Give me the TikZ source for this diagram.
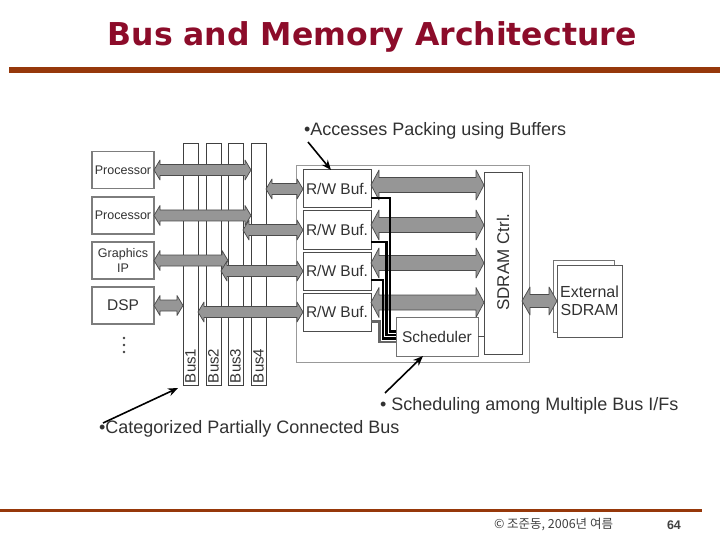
\documentclass[tikz,border=0pt]{standalone}
\usepackage{fontspec}
\setmainfont{Liberation Sans}
\newfontfamily\titlefont{DejaVu Sans}
\newfontfamily\krfont{Noto Sans CJK KR}
\usetikzlibrary{calc,arrows.meta}
\definecolor{titlered}{RGB}{140,12,42}
\definecolor{rulebrown}{RGB}{150,56,10}
\definecolor{txt}{RGB}{50,50,50}
\definecolor{arrfill}{RGB}{150,150,150}
\definecolor{arrline}{RGB}{75,75,75}
\definecolor{boxline}{RGB}{125,125,125}
% block double arrow: #1 start, #2 end, #3 half shaft, #4 half head, #5 head length
\newcommand\blk[5]{%
  \filldraw[blockarr] let \p1=(#1), \p2=(#2) in
   (\x1,\y1) -- (\x1+#5pt,\y1+#4pt) -- (\x1+#5pt,\y1+#3pt) -- (\x2-#5pt,\y1+#3pt)
   -- (\x2-#5pt,\y1+#4pt) -- (\x2,\y1) -- (\x2-#5pt,\y1-#4pt) -- (\x2-#5pt,\y1-#3pt)
   -- (\x1+#5pt,\y1-#3pt) -- (\x1+#5pt,\y1-#4pt) -- cycle;}
\newcommand\fs[1]{\fontsize{#1}{#1}\selectfont}
\begin{document}
\begin{tikzpicture}[x=1pt,y=-1pt,
  every node/.style={inner sep=0pt, outer sep=0pt, text=txt},
  pbox/.style={draw=boxline, line width=1.3pt, fill=white, rectangle, minimum width=62pt, minimum height=37pt, align=center},
  bbox/.style={draw=black!70, line width=1pt, fill=white, rectangle, minimum width=68pt, minimum height=38pt, font=\fs{15.5}},
  busbox/.style={draw=black!75, line width=0.9pt, fill=white, rectangle, minimum width=15pt, minimum height=242pt},
  buslabel/.style={rotate=90, anchor=west, font=\fs{15}},
  blockarr/.style={fill=arrfill, draw=arrline, line width=0.7pt, line join=round},
  callout/.style={draw=black, line width=1.6pt, -{Stealth[length=10pt,width=8pt]}},
  note/.style={anchor=base west, font=\fs{18}},
  ]
\useasboundingbox (0,0) rectangle (720,540);

% title and rules
\node[anchor=base, text=titlered, font=\titlefont\bfseries\fs{31.5}] (title) at (372,46) {Bus and Memory Architecture};
\fill[rulebrown] (9,67) rectangle (720,73);
\fill[rulebrown] (0,509) rectangle (702,512);

% footer
\node[anchor=base west, font=\krfont\fs{12.5}, text=black!75] (foot) at (494,528) {© 조준동, 2006년 여름};
\node[anchor=base west, font=\bfseries\fs{12.5}, text=black!75] (page) at (667,529) {64};

% left masters
\node[pbox, font=\fs{12.5}] (p1) at (123,170) {Processor};
\node[pbox, font=\fs{12.5}] (p2) at (123,215.5) {Processor};
\node[pbox, font=\fontsize{12.5}{15.5}\selectfont] (p3) at (123,260.5) {Graphics\\IP};
\node[pbox, font=\fs{15.5}] (p4) at (123,305.5) {DSP};
\foreach \yy in {338,345,352} \fill[black!75] (124,\yy) circle (1.3pt);

% buses
\node[busbox] (b1) at (190.5,264) {};
\node[busbox] (b2) at (213.5,264) {};
\node[busbox] (b3) at (235.5,264) {};
\node[busbox] (b4) at (258.5,264) {};
\node[buslabel] (l1) at (190.5,383) {Bus1};
\node[buslabel] (l2) at (213.5,383) {Bus2};
\node[buslabel] (l3) at (235.5,383) {Bus3};
\node[buslabel] (l4) at (258.5,383) {Bus4};

% memory controller container
\node[draw=black!40, line width=1pt, rectangle, minimum width=233pt, minimum height=196pt] (mc) at (412.5,264) {};
\node[bbox] (buf1) at (337,189) {R/W Buf.};
\node[bbox] (buf2) at (337,230) {R/W Buf.};
\node[bbox] (buf3) at (337,271) {R/W Buf.};
\node[bbox] (buf4) at (337,312) {R/W Buf.};
\node[draw=black!70, line width=1pt, fill=white, rectangle, minimum width=38pt, minimum height=181pt] (sdram) at (503,263.5) {};
\node[rotate=90, font=\fs{17}] (sdramlbl) at (503,262) {SDRAM Ctrl.};

% external SDRAM
\node[draw=black!55, line width=1pt, fill=white, rectangle, minimum width=61pt, minimum height=72pt] (ext0) at (583.5,296) {};
\node[draw=black!65, line width=1pt, fill=white, rectangle, minimum width=65pt, minimum height=72pt, align=center, font=\fs{16}] (ext) at (589.5,301) {External\\[2pt]SDRAM};

% block arrows: masters to buses
\blk{p1.east}{b4.west |- p1.east}{5.5}{10}{6}
\blk{p2.east}{b4.west |- p2.east}{5.5}{10}{6}
\blk{p3.east}{b3.west |- p3.east}{5.5}{10}{6}
\blk{p4.east}{b1.west |- p4.east}{5.5}{10}{6}
% buses to buffers
\blk{b4.east |- buf1.west}{buf1.west}{5.5}{10}{6}
\blk{b3.east |- buf2.west}{buf2.west}{5.5}{10}{6}
\blk{b2.east |- buf3.west}{buf3.west}{5.5}{10}{6}
\blk{b1.east |- buf4.west}{buf4.west}{5.5}{10}{6}
% buffers to SDRAM controller
\coordinate (r1) at ([yshift=4pt]buf1.east);
\coordinate (r2) at ([yshift=5pt]buf2.east);
\coordinate (r3) at ([yshift=8pt]buf3.east);
\coordinate (r4) at ([yshift=9.5pt]buf4.east);
\blk{r1}{sdram.west |- r1}{7.5}{15}{8}
\blk{r2}{sdram.west |- r2}{7.5}{15}{8}
\blk{r3}{sdram.west |- r3}{7.5}{15}{8}
\blk{r4}{sdram.west |- r4}{7.5}{15}{8}
% controller to external SDRAM
\blk{sdram.east |- ext.west}{ext.west}{6.5}{14}{8}

% scheduler and wires
\node[draw=black!55, line width=1pt, fill=white, rectangle, minimum width=82pt, minimum height=39pt, font=\fs{15.5}] (sch) at (437,336.5) {Scheduler};
\draw[draw=black, line width=2.6pt] ([yshift=-9pt]buf1.east) -| ([xshift=-6pt,yshift=5pt]sch.west) -- ([yshift=5pt]sch.west);
\draw[draw=black, line width=2.6pt] ([yshift=-12pt]buf2.east) -| ([xshift=-9.5pt,yshift=1.5pt]sch.west) -- ([yshift=1.5pt]sch.west);
\draw[draw=black, line width=2.6pt] ([yshift=-9pt]buf3.east) -| ([xshift=-13pt,yshift=-2pt]sch.west) -- ([yshift=-2pt]sch.west);
\draw[draw=black!60, line width=2.6pt] ([yshift=-9.5pt]buf4.east) -| ([xshift=-16.5pt,yshift=-5.5pt]sch.west) -- ([yshift=-5.5pt]sch.west);
\draw[draw=black!70, line width=1pt] (sch.east) -- (sdram.west |- sch.east);

% annotations
\node[note] (n1) at (304,136) {•Accesses Packing using Buffers};
\node[note] (n2) at (380,410) {• Scheduling among Multiple Bus I/Fs};
\node[note] (n3) at (99,433) {•Categorized Partially Connected Bus};
\coordinate (c1) at (308,142);
\coordinate (c2) at (385,393);
\coordinate (c3) at (103,423);
\draw[callout] (c1) -- ([xshift=-6pt]buf1.north);
\draw[callout] (c2) -- ([xshift=-14pt]sch.south);
\draw[callout] (c3) -- ([xshift=-5pt,yshift=-3pt]b1.south west);
\end{tikzpicture}
\end{document}
